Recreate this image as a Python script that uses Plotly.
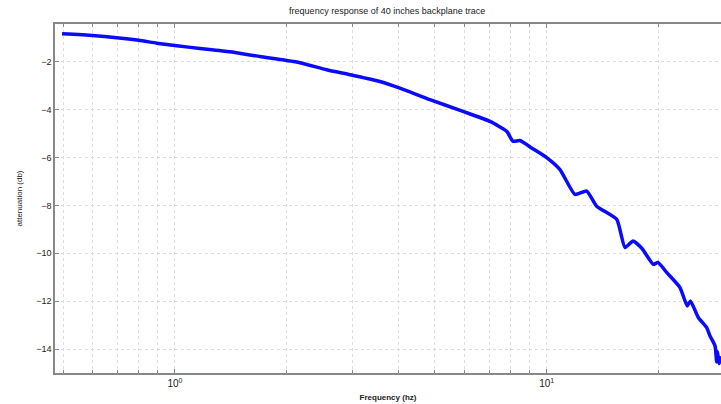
import plotly.graph_objects as go

# Frequency (normalized units as labelled on the chart) and attenuation in dB
freq = [0.497, 0.60, 0.697, 0.80, 0.893, 1.011, 1.168, 1.406, 1.693, 2.126, 2.559, 2.957,
        3.561, 4.030, 4.853, 5.955, 7.04, 7.805, 8.117, 8.477, 9.114, 10.0, 10.86,
        11.92, 12.81, 13.63, 15.43, 16.25, 17.07, 18.05, 19.36, 19.93, 21.03,
        22.84, 23.89, 24.37, 25.58, 26.95, 27.5, 28.37, 28.67, 28.8, 29.1, 29.44]
atten = [-0.83, -0.90, -0.99, -1.10, -1.22, -1.33, -1.44, -1.58, -1.78, -2.01, -2.33, -2.54,
         -2.82, -3.10, -3.58, -4.07, -4.49, -4.90, -5.32, -5.29, -5.60, -6.0, -6.5,
         -7.54, -7.40, -8.03, -8.58, -9.76, -9.49, -9.80, -10.46, -10.38, -10.8,
         -11.43, -12.2, -11.99, -12.68, -13.1, -13.45, -13.86, -14.54, -14.1, -14.6, -14.3]

major_x = [1, 10]
major_x_text = ["10<sup>0</sup>", "10<sup>1</sup>"]
minor_x = [0.5, 0.6, 0.7, 0.8, 0.9, 2, 3, 4, 5, 6, 7, 8, 9, 20]
y_ticks = [-14, -12, -10, -8, -6, -4, -2]

title_text = "frequency response of 40 inches backplane trace"
x_label = "Frequency (hz)"
y_label = "attenuation (db)"

fig = go.Figure()
fig.add_trace(go.Scatter(x=freq, y=atten, mode="lines",
                         line=dict(color="#0a0aff", width=3.5, shape="spline", smoothing=0.5),
                         showlegend=False))

fig.update_layout(
    width=721, height=404,
    margin=dict(l=55, r=0, t=24, b=31),
    paper_bgcolor="white", plot_bgcolor="white",
    font=dict(family="Liberation Sans, Arial, sans-serif", size=9, color="#222"),
    title=dict(text=title_text, x=0.537, xanchor="center", y=0.972, yanchor="middle",
               font=dict(size=9, color="#222")),
)
fig.update_xaxes(type="log", range=[-0.3226, 1.469],
                 tickvals=major_x, ticktext=major_x_text,
                 showgrid=True, gridcolor="#dcdcdc", griddash="dot", gridwidth=1,
                 ticks="inside", ticklen=4, tickcolor="#888",
                 minor=dict(tickvals=minor_x, showgrid=True, gridcolor="#dcdcdc",
                            griddash="dot", gridwidth=1, ticks="inside", ticklen=3,
                            tickcolor="#888"),
                 showline=True, linecolor="#888", linewidth=1.5, mirror="ticks",
                 zeroline=False,
                 title=dict(text="<b>" + x_label + "</b>", standoff=7, font=dict(size=8)),
                 tickfont=dict(size=10))
fig.update_yaxes(range=[-15, -0.42], tickvals=y_ticks,
                 showgrid=True, gridcolor="#dcdcdc", griddash="dot", gridwidth=1,
                 ticks="inside", ticklen=4, tickcolor="#888",
                 showline=True, linecolor="#888", linewidth=1.5, mirror=False,
                 zeroline=False,
                 title=dict(text=y_label, standoff=12, font=dict(size=8)),
                 tickfont=dict(size=9))

fig.write_html("out.html")
